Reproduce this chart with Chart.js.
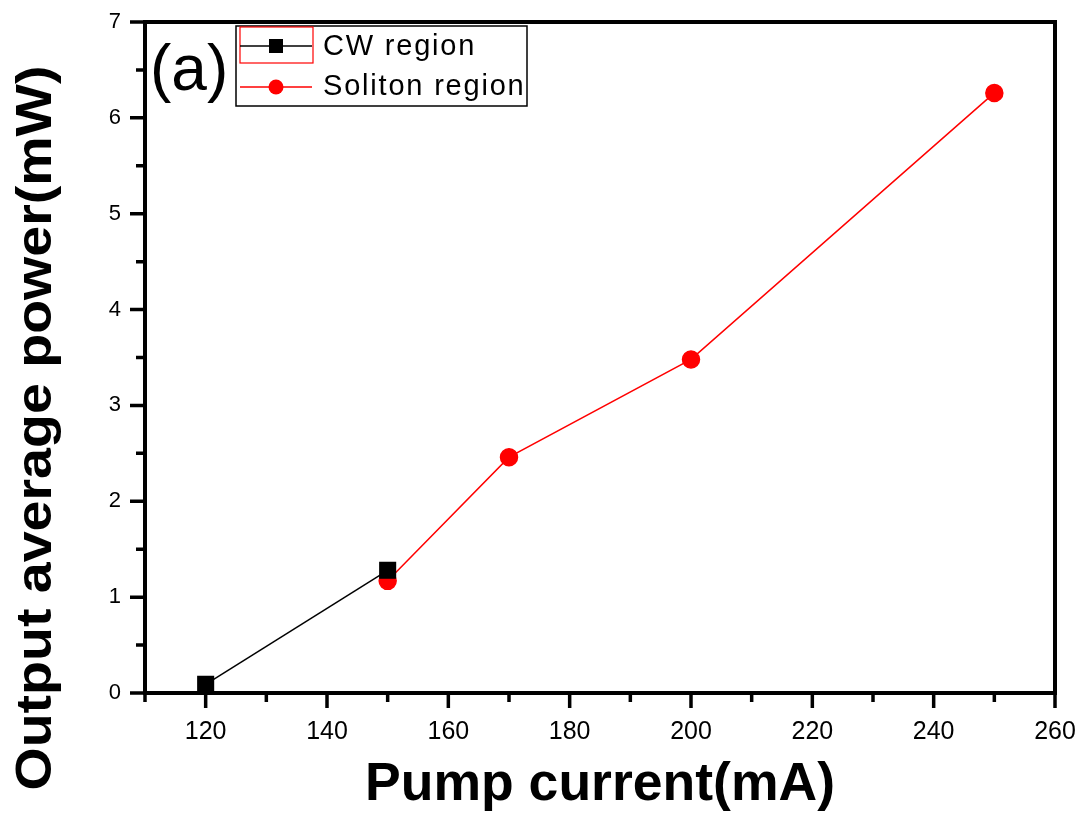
<!DOCTYPE html>
<html>
<head>
<meta charset="utf-8">
<script src="https://cdn.jsdelivr.net/npm/chart.js@4.4.0/dist/chart.umd.min.js"></script>
<style>
  html, body { margin: 0; padding: 0; background: #fff; }
  #wrap { width: 1082px; height: 823px; position: relative; }
</style>
</head>
<body>
<div id="wrap"><canvas id="c"></canvas></div>
<script>
// data
const cwCurrent = [120, 150];
const cwPower = [0.09, 1.28];
const solCurrent = [150, 170, 200, 250];
const solPower = [1.17, 2.46, 3.48, 6.26];
const xTicks = [120, 140, 160, 180, 200, 220, 240, 260];
const xMinor = [110, 130, 150, 170, 190, 210, 230, 250];
const yTicks = [0, 1, 2, 3, 4, 5, 6, 7];
const yMinor = [0.5, 1.5, 2.5, 3.5, 4.5, 5.5, 6.5];

const toPts = (xs, ys) => xs.map((x, i) => ({ x, y: ys[i] }));

// frame, ticks, titles, legend
const decor = {
  id: 'decor',
  beforeDatasetsDraw(chart) {
    const { ctx, chartArea: a, scales: { x, y } } = chart;
    ctx.save();
    ctx.strokeStyle = '#000';
    ctx.lineWidth = 3.5;
    ctx.beginPath();
    xTicks.forEach(v => { const px = x.getPixelForValue(v); ctx.moveTo(px, a.bottom); ctx.lineTo(px, a.bottom + 15); });
    xMinor.forEach(v => { const px = x.getPixelForValue(v); ctx.moveTo(px, a.bottom); ctx.lineTo(px, a.bottom + 9); });
    yTicks.forEach(v => { const py = y.getPixelForValue(v); ctx.moveTo(a.left, py); ctx.lineTo(a.left - 15, py); });
    yMinor.forEach(v => { const py = y.getPixelForValue(v); ctx.moveTo(a.left, py); ctx.lineTo(a.left - 9, py); });
    ctx.stroke();
    ctx.lineWidth = 4;
    ctx.strokeRect(a.left, a.top, a.right - a.left, a.bottom - a.top);
    ctx.restore();
  },
  afterDraw(chart) {
    const { ctx } = chart;
    ctx.save();
    ctx.fillStyle = '#000';

    // y title
    ctx.save();
    ctx.translate(37, 428);
    ctx.rotate(-Math.PI / 2);
    ctx.font = 'bold 50px "Liberation Sans", Arial, sans-serif';
    ctx.textAlign = 'center';
    ctx.textBaseline = 'middle';
    let w = ctx.measureText('Output average power(mW)').width;
    ctx.scale(725 / w, 1);
    ctx.fillText('Output average power(mW)', 0, 0);
    ctx.restore();

    // x title
    ctx.save();
    ctx.translate(600, 800);
    ctx.font = 'bold 54px "Liberation Sans", Arial, sans-serif';
    ctx.textAlign = 'center';
    ctx.textBaseline = 'alphabetic';
    w = ctx.measureText('Pump current(mA)').width;
    ctx.scale(470 / w, 1);
    ctx.fillText('Pump current(mA)', 0, 0);
    ctx.restore();

    // panel label
    ctx.font = '64px "Liberation Sans", Arial, sans-serif';
    ctx.textAlign = 'left';
    ctx.textBaseline = 'alphabetic';
    ctx.fillText('(a)', 150, 90);

    // legend
    ctx.fillStyle = '#fff';
    ctx.fillRect(236, 26, 291, 80);
    ctx.strokeStyle = '#000';
    ctx.lineWidth = 1.5;
    ctx.strokeRect(236, 26, 291, 80);
    ctx.strokeStyle = '#ff0000';
    ctx.lineWidth = 1.2;
    ctx.strokeRect(240, 27, 73, 36);
    ctx.strokeStyle = '#000';
    ctx.lineWidth = 1.5;
    ctx.beginPath(); ctx.moveTo(240, 46); ctx.lineTo(312, 46); ctx.stroke();
    ctx.fillStyle = '#000';
    ctx.fillRect(269, 39, 14, 14);
    ctx.strokeStyle = '#ff0000';
    ctx.beginPath(); ctx.moveTo(240, 87); ctx.lineTo(312, 87); ctx.stroke();
    ctx.fillStyle = '#ff0000';
    ctx.beginPath(); ctx.arc(276, 87, 7.5, 0, Math.PI * 2); ctx.fill();
    ctx.fillStyle = '#000';
    ctx.font = '29px "Liberation Sans", Arial, sans-serif';
    ctx.letterSpacing = '1.8px';
    ctx.textBaseline = 'middle';
    ctx.fillText('CW region', 323, 47);
    ctx.fillText('Soliton region', 323, 87);
    ctx.restore();
  }
};

new Chart(document.getElementById('c'), {
  type: 'line',
  data: {
    datasets: [
      {
        label: 'CW region',
        data: toPts(cwCurrent, cwPower),
        borderColor: '#000',
        backgroundColor: '#000',
        borderWidth: 1.5,
        pointStyle: 'rect',
        pointRadius: 11,
        pointHoverRadius: 11,
        tension: 0
      },
      {
        label: 'Soliton region',
        data: toPts(solCurrent, solPower),
        borderColor: '#ff0000',
        backgroundColor: '#ff0000',
        borderWidth: 1.5,
        pointStyle: 'circle',
        pointRadius: 8.5,
        pointHoverRadius: 8.5,
        tension: 0
      }
    ]
  },
  options: {
    responsive: true,
    maintainAspectRatio: false,
    animation: false,
    layout: { padding: { left: 0, top: 22, right: 27, bottom: 0 } },
    plugins: { legend: { display: false }, tooltip: { enabled: false } },
    scales: {
      x: {
        type: 'linear',
        min: 110,
        max: 260,
        grid: { display: false, drawTicks: false },
        border: { display: false },
        afterBuildTicks: s => { s.ticks = xTicks.map(v => ({ value: v })); },
        afterFit: s => { s.height = 130; s.paddingLeft = 0; s.paddingRight = 0; },
        ticks: {
          padding: 24,
          color: '#000',
          maxRotation: 0,
          font: { family: '"Liberation Sans", Arial, sans-serif', size: 25 }
        }
      },
      y: {
        min: 0,
        max: 7,
        grid: { display: false, drawTicks: false },
        border: { display: false },
        afterBuildTicks: s => { s.ticks = yTicks.map(v => ({ value: v })); },
        afterFit: s => { s.width = 145; s.paddingTop = 0; s.paddingBottom = 0; },
        ticks: {
          padding: 24,
          color: '#000',
          font: { family: '"Liberation Sans", Arial, sans-serif', size: 22 }
        }
      }
    }
  },
  plugins: [decor]
});
</script>
</body>
</html>
